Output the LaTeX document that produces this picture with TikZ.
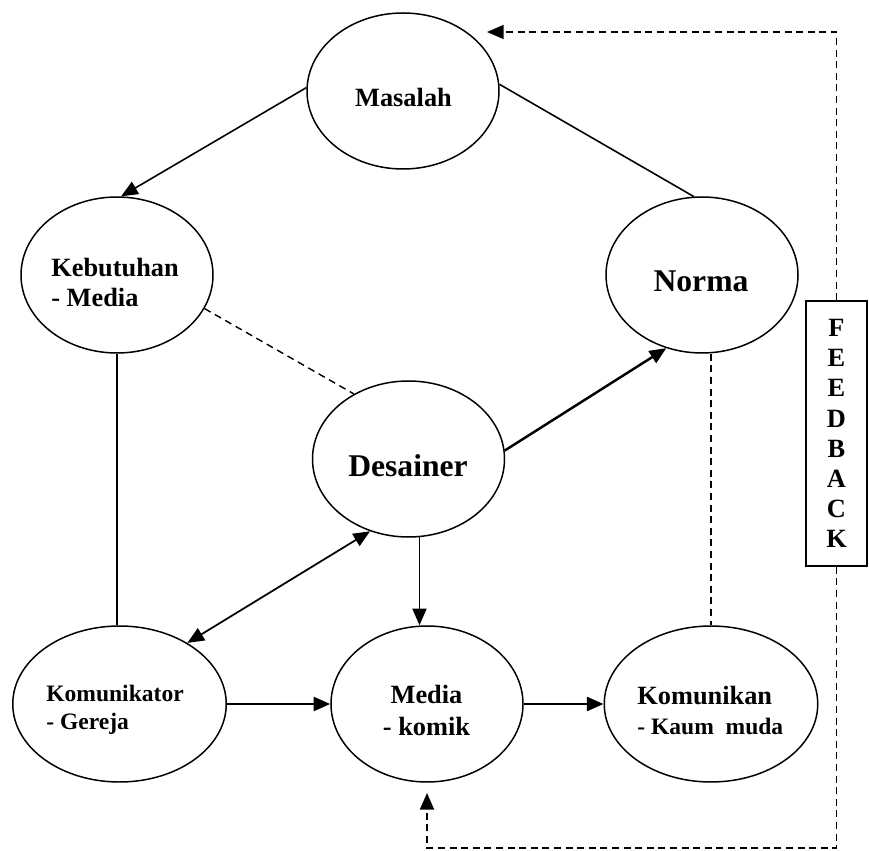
\documentclass[tikz,border=0pt]{standalone}
\usepackage{fontspec}
\setmainfont{Liberation Serif}
\usetikzlibrary{shapes.geometric,arrows.meta}
\tikzset{
  oval/.style={draw, ellipse, line width=0.85pt, minimum width=3.84cm, minimum height=3.12cm},
  wideoval/.style={oval, minimum width=4.27cm},
  txt/.style={inner sep=0pt, font=\bfseries\fontsize{15}{17.6}\selectfont},
  smalltxt/.style={inner sep=0pt, font=\bfseries\fontsize{13.4}{15.9}\selectfont},
  bigtxt/.style={inner sep=0pt, font=\bfseries\fontsize{18}{21}\selectfont},
  arr/.style={-{Triangle[length=9.5pt,width=8pt]}},
  fbdash/.style={dash pattern=on 4pt off 2.6pt, line width=1pt}
}
\begin{document}
\begin{tikzpicture}
    \useasboundingbox (0,0) rectangle (17.38,17);
    \node[oval] (masalah) at (8.06,15.18) {};
    \node[oval] (kebutuhan) at (2.34,11.5) {};
    \node[oval] (norma) at (14.04,11.5) {};
    \node[oval] (desainer) at (8.17,7.82) {};
    \node[wideoval] (komunikator) at (2.39,2.92) {};
    \node[oval] (media) at (8.54,2.92) {};
    \node[wideoval] (komunikan) at (14.22,2.92) {};

    \node[txt, anchor=base] (tmasalah) at (8.07,14.86) {Masalah};
    \node[txt, anchor=base west, align=left] (tkebutuhan) at (1.02,10.86) {Kebutuhan\\- Media};
    \node[bigtxt, anchor=base] (tnorma) at (14.02,11.16) {Norma};
    \node[bigtxt, anchor=base] (tdesainer) at (8.16,7.46) {Desainer};
    \node[smalltxt, anchor=base west, align=left] (tkomunikator) at (0.92,2.42) {Komunikator\\- Gereja};
    \node[txt, font=\bfseries\fontsize{15}{18.1}\selectfont, anchor=base, align=center] (tmedia) at (8.53,2.30) {Media\\- komik};
    \node[txt, font=\bfseries\fontsize{15}{17}\selectfont, anchor=base west, align=left] (tkomunikan) at (12.74,2.32)
        {Komunikan\\{\fontsize{13.4}{17}\selectfont - Kaum\ \ muda}};

    \node[draw, line width=0.85pt, minimum width=1.22cm, minimum height=5.3cm, inner sep=0pt, align=center,
        font=\bfseries\fontsize{15}{17.2}\selectfont] (feedback) at (16.73,8.33) {F\\E\\E\\D\\B\\A\\C\\K};

    \draw[arr, line width=0.9pt] (masalah.178) -- (kebutuhan.87);
    \draw[line width=0.9pt] (masalah.4) -- (norma.96);
    \draw[dash pattern=on 4pt off 2.8pt, line width=0.8pt] (kebutuhan.339) -- (desainer.130);
    \draw[line width=0.9pt] (kebutuhan.south) -- (kebutuhan.south |- komunikator.north);
    \draw[arr, line width=1.4pt] (desainer.5) -- (norma.244);
    \draw[{Triangle[length=9.5pt,width=8pt]}-{Triangle[length=9.5pt,width=8pt]}, line width=1pt]
        (desainer.242) -- (komunikator.42);
    \draw[arr, line width=1pt] (desainer.-82) -- (desainer.-82 |- media.north);
    \draw[arr, line width=1.4pt] (komunikator) -- (media);
    \draw[arr, line width=1.4pt] (media) -- (komunikan);
    \draw[fbdash] (komunikan.north |- norma.south) -- (komunikan.north);

    \coordinate (fbin) at (9.74,16.36);
    \coordinate (fbcorner) at (16.73,0.04);
    \coordinate (fbout) at (8.54,1.14);
    \draw[fbdash, arr] (feedback.north) |- (fbin);
    \draw[fbdash, arr] (feedback.south) -- (fbcorner) -| (fbout);
\end{tikzpicture}
\end{document}
